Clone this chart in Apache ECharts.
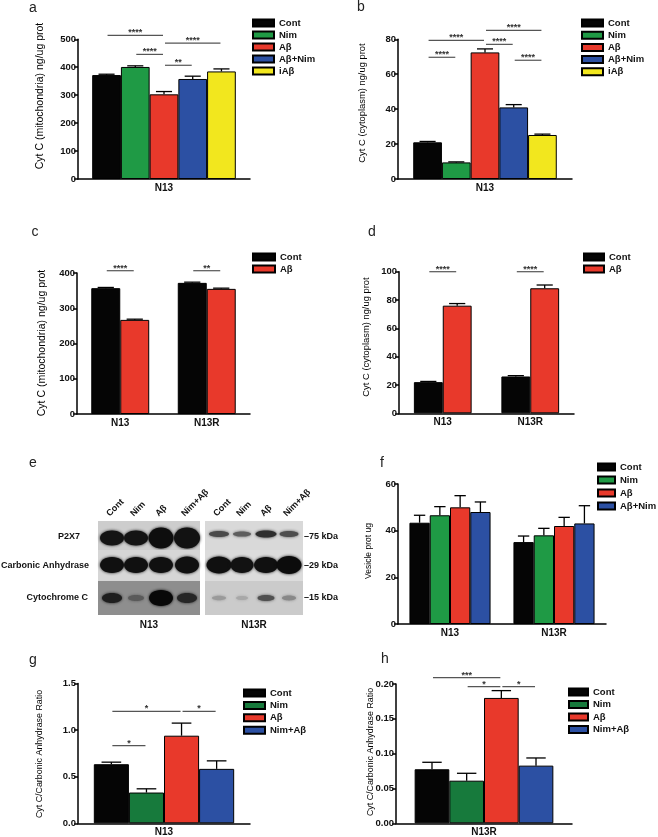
<!DOCTYPE html>
<html><head><meta charset="utf-8">
<script src="https://cdn.jsdelivr.net/npm/echarts@6/dist/echarts.min.js"></script>
<style>html,body{margin:0;padding:0;background:#fff}#c{width:658px;height:837px}</style>
</head><body><div id="c"></div><script>
// ---------------- DATA ----------------
// panel a
const aCats = ['N13'];
const aNames = ['Cont', 'Nim', 'Aβ', 'Aβ+Nim', 'iAβ'];
const aValues = [[372], [401], [303], [358], [385]];
const aErrors = [[3], [4], [10], [10], [9]];
const aTicks = [0, 100, 200, 300, 400, 500];
const aSig = [[0, 0, 2, 514, '****'], [0, 1, 2, 446, '****'], [0, 2, 4, 486, '****'], [0, 2, 3, 407, '**']];
// panel b
const bCats = ['N13'];
const bNames = ['Cont', 'Nim', 'Aβ', 'Aβ+Nim', 'iAβ'];
const bValues = [[21], [9.5], [72.5], [41], [25.2]];
const bErrors = [[0.5], [0.3], [2], [1.6], [0.5]];
const bTicks = [0, 20, 40, 60, 80];
const bSig = [[0, 0, 1, 69.7, '****'], [0, 0, 2, 79.4, '****'], [0, 2, 3, 77.1, '****'], [0, 2, 4, 85.1, '****'], [0, 3, 4, 68, '****']];
// panel c
const cCats = ['N13', 'N13R'];
const cNames = ['Cont', 'Aβ'];
const cValues = [[357, 372], [267, 355]];
const cErrors = [[2, 2], [2, 2]];
const cTicks = [0, 100, 200, 300, 400];
const cSig = [[0, 0, 1, 406.5, '****'], [1, 0, 1, 406.5, '**']];
// panel d
const dCats = ['N13', 'N13R'];
const dNames = ['Cont', 'Aβ'];
const dValues = [[22, 26], [76, 88.3]];
const dErrors = [[0.5, 0.6], [1.5, 2.3]];
const dTicks = [0, 20, 40, 60, 80, 100];
const dSig = [[0, 0, 1, 100, '****'], [1, 0, 1, 100, '****']];
// panel f
const fCats = ['N13', 'N13R'];
const fNames = ['Cont', 'Nim', 'Aβ', 'Aβ+Nim'];
const fValues = [[43.4, 35.1], [46.6, 38], [50, 42], [48, 43.1]];
const fErrors = [[3.2, 2.6], [3.7, 3], [5, 3.7], [4.3, 7.6]];
const fTicks = [0, 20, 40, 60];
// panel g
const gCats = ['N13'];
const gNames = ['Cont', 'Nim', 'Aβ', 'Nim+Aβ'];
const gValues = [[0.634], [0.33], [0.94], [0.584]];
const gErrors = [[0.022], [0.04], [0.135], [0.086]];
const gTicks = [0, 0.5, 1.0, 1.5];
const gSig = [[0, 0, 1, 0.834, '*'], [0, 0, 2, 1.2, '*'], [0, 2, 3, 1.2, '*']];
// panel h
const hCats = ['N13R'];
const hNames = ['Cont', 'Nim', 'Aβ', 'Nim+Aβ'];
const hValues = [[0.0776], [0.0612], [0.18], [0.0828]];
const hErrors = [[0.010], [0.0106], [0.0105], [0.011]];
const hTicks = [0, 0.05, 0.10, 0.15, 0.20];
const hSig = [[0, 0, 2, 0.2092, '***'], [0, 1, 2, 0.1963, '*'], [0, 2, 3, 0.1963, '*']];
// blot (panel e) lane labels and rows
const blotLanes = ['Cont', 'Nim', 'Aβ', 'Nim+Aβ'];
const blotRows = ['P2X7', 'Carbonic Anhydrase', 'Cytochrome C'];
const blotMarkers = ['–75 kDa', '–29 kDa', '–15 kDa'];
const blotGroups = ['N13', 'N13R'];

// ---------------- STYLE ----------------
const FONT = '"Liberation Sans", Arial, Helvetica, sans-serif';
const K = '#050505', G1 = '#1f9a45', G2 = '#177a3c', R = '#e8392b', B = '#2c50a3', Y = '#f2e71e';

const grids = [], xAxes = [], yAxes = [], series = [], legends = [], graphics = [];

function addPanel(p) {
  const gi = grids.length;
  grids.push(Object.assign({ containLabel: false, outerBoundsMode: 'none' }, p.grid));
  xAxes.push({
    gridIndex: gi, type: 'category', data: p.cats,
    axisLine: { lineStyle: { color: '#000', width: 1.5 } },
    axisTick: { show: false },
    axisLabel: { fontFamily: FONT, fontSize: 10, fontWeight: 'bold', color: '#111', margin: 4 }
  });
  const t = p.ticks;
  yAxes.push({
    gridIndex: gi, type: 'value', min: t[0], max: t[t.length - 1], interval: t[1] - t[0],
    axisLine: { show: true, lineStyle: { color: '#000', width: 1.5 } },
    axisTick: { show: true, length: 4, lineStyle: { color: '#000', width: 1.5 } },
    splitLine: { show: false },
    axisLabel: { fontFamily: FONT, fontSize: 9.5, fontWeight: 'bold', color: '#111', margin: 2, formatter: p.fmt }
  });
  const n = p.names.length;
  p.names.forEach((nm, s) => {
    series.push({
      type: 'bar', name: p.id + '|' + nm, xAxisIndex: gi, yAxisIndex: gi,
      data: p.values[s], barWidth: p.barPct + '%', barGap: '0%', silent: true,
      itemStyle: { color: p.colors[s], borderColor: '#000', borderWidth: 1 }
    });
  });
  const pct = p.barPct / 100;
  const errData = [];
  p.names.forEach((nm, s) => p.cats.forEach((c, ci) => errData.push([ci, s, p.values[s][ci], p.errors[s][ci]])));
  series.push({
    type: 'custom', xAxisIndex: gi, yAxisIndex: gi, silent: true, z: 4, data: errData,
    encode: { x: 0, y: 2 },
    renderItem: (params, api) => {
      const c = api.value(0), s = api.value(1), v = api.value(2), e = api.value(3);
      const bw = api.size([1, 0])[0] * pct;
      const p0 = api.coord([c, v]), p1 = api.coord([c, v + e]);
      const x = p0[0] + (s - (n - 1) / 2) * bw;
      const cap = bw * 0.28;
      return { type: 'group', children: [
        { type: 'line', shape: { x1: x, y1: p0[1], x2: x, y2: p1[1] }, style: { stroke: '#000', lineWidth: 1.3 } },
        { type: 'line', shape: { x1: x - cap, y1: p1[1], x2: x + cap, y2: p1[1] }, style: { stroke: '#000', lineWidth: 1.3 } }
      ] };
    }
  });
  if (p.sig) {
    series.push({
      type: 'custom', xAxisIndex: gi, yAxisIndex: gi, silent: true, z: 4,
      data: p.sig.map(r => [r[0], r[1], r[2], r[3]]), encode: { x: 0, y: 3 },
      renderItem: (params, api) => {
        const c = api.value(0), s1 = api.value(1), s2 = api.value(2), yv = api.value(3);
        const bw = api.size([1, 0])[0] * pct;
        const pc = api.coord([c, yv]);
        const x1 = pc[0] + (s1 - (n - 1) / 2) * bw + 1;
        const x2 = pc[0] + (s2 - (n - 1) / 2) * bw - 1;
        const lab = p.sig[params.dataIndex][4];
        return { type: 'group', children: [
          { type: 'line', shape: { x1: x1, y1: pc[1], x2: x2, y2: pc[1] }, style: { stroke: '#555', lineWidth: 1.2 } },
          { type: 'text', style: { text: lab, x: (x1 + x2) / 2, y: pc[1] + 2, align: 'center', verticalAlign: 'bottom',
            fontFamily: FONT, fontSize: 9, fontWeight: 'bold', fill: '#333' } }
        ] };
      }
    });
  }
  legends.push({
    left: p.legend.left, top: p.legend.top, orient: 'vertical', padding: 0,
    itemWidth: p.legend.itemWidth, itemHeight: 7, itemGap: p.legend.itemGap, icon: 'rect',
    selectedMode: false, data: p.names.map(nm => p.id + '|' + nm),
    formatter: name => name.slice(name.indexOf('|') + 1),
    textStyle: { fontFamily: FONT, fontSize: 9.5, fontWeight: 'bold', color: '#111' }
  });
  graphics.push({
    type: 'text', x: p.yName.x, y: p.yName.y, rotation: Math.PI / 2, silent: true,
    style: { text: p.yName.text, align: 'center', verticalAlign: 'middle', fontFamily: FONT,
      fontSize: p.yName.size, fill: '#000' }
  });
}

const f0 = v => String(v);
addPanel({ id: 'a', grid: { left: 78, top: 39.3, width: 172, height: 139.7 }, cats: aCats, names: aNames,
  colors: [K, G1, R, B, Y], values: aValues, errors: aErrors, ticks: aTicks, fmt: f0, sig: aSig, barPct: 16.7,
  legend: { left: 252, top: 18, itemWidth: 21, itemGap: 2 },
  yName: { text: 'Cyt C (mitochondria) ng/ug prot', x: 40, y: 96, size: 10.5 } });
addPanel({ id: 'b', grid: { left: 398, top: 39.3, width: 174, height: 139.7 }, cats: bCats, names: bNames,
  colors: [K, G1, R, B, Y], values: bValues, errors: bErrors, ticks: bTicks, fmt: f0, sig: bSig, barPct: 16.5,
  legend: { left: 581, top: 18, itemWidth: 21, itemGap: 2.2 },
  yName: { text: 'Cyt C (cytoplasm) ng/ug prot', x: 362, y: 103, size: 9.4 } });
addPanel({ id: 'c', grid: { left: 77, top: 273, width: 173, height: 141 }, cats: cCats, names: cNames,
  colors: [K, R], values: cValues, errors: cErrors, ticks: cTicks, fmt: f0, sig: cSig, barPct: 33.5,
  legend: { left: 252, top: 252, itemWidth: 22, itemGap: 2 },
  yName: { text: 'Cyt C (mitochondria) ng/ug prot', x: 42, y: 343, size: 10.5 } });
addPanel({ id: 'd', grid: { left: 399, top: 271.7, width: 175, height: 141.6 }, cats: dCats, names: dNames,
  colors: [K, R], values: dValues, errors: dErrors, ticks: dTicks, fmt: f0, sig: dSig, barPct: 33,
  legend: { left: 583, top: 252, itemWidth: 20, itemGap: 2 },
  yName: { text: 'Cyt C (cytoplasm) ng/ug prot', x: 366, y: 337, size: 9.4 } });
addPanel({ id: 'f', grid: { left: 398, top: 484, width: 208, height: 140 }, cats: fCats, names: fNames,
  colors: [K, G1, R, B], values: fValues, errors: fErrors, ticks: fTicks, fmt: f0, sig: null, barPct: 19.5,
  legend: { left: 597, top: 462, itemWidth: 17, itemGap: 3 },
  yName: { text: 'Vesicle prot ug', x: 369, y: 551, size: 8.5 } });
addPanel({ id: 'g', grid: { left: 78, top: 683.5, width: 172, height: 139.8 }, cats: gCats, names: gNames,
  colors: [K, G2, R, B], values: gValues, errors: gErrors, ticks: gTicks, fmt: v => v.toFixed(1), sig: gSig, barPct: 20.4,
  legend: { left: 243, top: 688, itemWidth: 21, itemGap: 2.4 },
  yName: { text: 'Cyt C/Carbonic Anhydrase Ratio', x: 40, y: 754, size: 8.9 } });
addPanel({ id: 'h', grid: { left: 396, top: 684, width: 176, height: 139.3 }, cats: hCats, names: hNames,
  colors: [K, G2, R, B], values: hValues, errors: hErrors, ticks: hTicks, fmt: v => v.toFixed(2), sig: hSig, barPct: 19.7,
  legend: { left: 568, top: 687, itemWidth: 19, itemGap: 2.5 },
  yName: { text: 'Cyt C/Carbonic Anhydrase Ratio', x: 371, y: 752, size: 8.9 } });

// panel letters
[['a', 33, 8], ['b', 361, 7], ['c', 35, 232], ['d', 372, 232], ['e', 33, 463], ['f', 382, 463], ['g', 33, 660], ['h', 385, 659]]
  .forEach(l => graphics.push({ type: 'text', x: l[1], y: l[2], silent: true,
    style: { text: l[0], align: 'center', verticalAlign: 'middle', fontFamily: FONT, fontSize: 14, fill: '#222' } }));

// ---------------- BLOT (panel e, decorative image) ----------------
const rowsY = [[521, 550], [550, 581], [581, 615]];
const panelsX = [[98, 200], [205, 303]];
const bgCol = [['#cdcdcd', '#d6d6d6', '#8e8e8e'], ['#d9d9d9', '#dcdcdc', '#cbcbcb']];
const laneX = [[112, 136, 161, 187], [219, 242, 266, 289]];
const bandCY = [[538, 565, 598], [534, 565, 598]];
// band looks: [rx, ry, color]
const bands = [
  [[[12, 7.5, '#141414'], [12, 7.5, '#141414'], [12.5, 10.5, '#0e0e0e'], [13, 10.5, '#121212']],
   [[12, 8, '#101010'], [12, 8, '#101010'], [12, 8, '#101010'], [12, 8.5, '#101010']],
   [[10, 5, '#1e1e1e'], [8, 3, '#5a5a5a'], [12, 8, '#080808'], [10, 5, '#262626']]],
  [[[10, 3, '#4a4a4a'], [9, 2.6, '#5e5e5e'], [10.5, 3.5, '#2e2e2e'], [9.5, 3, '#4e4e4e']],
   [[12.5, 8.5, '#101010'], [11.5, 8, '#121212'], [12, 8, '#101010'], [12.5, 9, '#0c0c0c']],
   [[7, 2.2, '#9a9a9a'], [6, 2, '#a8a8a8'], [8.5, 3, '#505050'], [7, 2.4, '#888888']]]
];
for (let pi = 0; pi < 2; pi++) {
  for (let ri = 0; ri < 3; ri++) {
    graphics.push({ type: 'rect', silent: true, shape: { x: panelsX[pi][0], y: rowsY[ri][0], width: panelsX[pi][1] - panelsX[pi][0], height: rowsY[ri][1] - rowsY[ri][0] },
      style: { fill: bgCol[pi][ri] } });
    for (let li = 0; li < 4; li++) {
      const bd = bands[pi][ri][li];
      graphics.push({ type: 'ellipse', silent: true, shape: { cx: laneX[pi][li], cy: bandCY[pi][ri], rx: bd[0], ry: bd[1] },
        style: { fill: bd[2], shadowBlur: 3, shadowColor: bd[2] } });
    }
  }
  // lane labels
  blotLanes.forEach((ln, li) => graphics.push({ type: 'text', silent: true, x: laneX[pi][li] - 4, y: 515, rotation: Math.PI / 4,
    style: { text: ln, align: 'left', verticalAlign: 'middle', fontFamily: FONT, fontSize: 9, fontWeight: 'bold', fill: '#111' } }));
  graphics.push({ type: 'text', silent: true, x: (panelsX[pi][0] + panelsX[pi][1]) / 2, y: 625,
    style: { text: blotGroups[pi], align: 'center', verticalAlign: 'middle', fontFamily: FONT, fontSize: 10, fontWeight: 'bold', fill: '#111' } });
}
const rowLabelPos = [[80, 537], [89, 566], [88, 598]];
blotRows.forEach((r, i) => graphics.push({ type: 'text', silent: true, x: rowLabelPos[i][0], y: rowLabelPos[i][1],
  style: { text: r, align: 'right', verticalAlign: 'middle', fontFamily: FONT, fontSize: 9, fontWeight: 'bold', fill: '#111' } }));
blotMarkers.forEach((m, i) => graphics.push({ type: 'text', silent: true, x: 304, y: [537, 566, 598][i],
  style: { text: m, align: 'left', verticalAlign: 'middle', fontFamily: FONT, fontSize: 9, fontWeight: 'bold', fill: '#111' } }));

const chart = echarts.init(document.getElementById('c'), null, { renderer: 'canvas' });
chart.setOption({
  animation: false, backgroundColor: '#fff',
  grid: grids, xAxis: xAxes, yAxis: yAxes, series: series, legend: legends,
  graphic: { elements: graphics }
});
</script></body></html>
